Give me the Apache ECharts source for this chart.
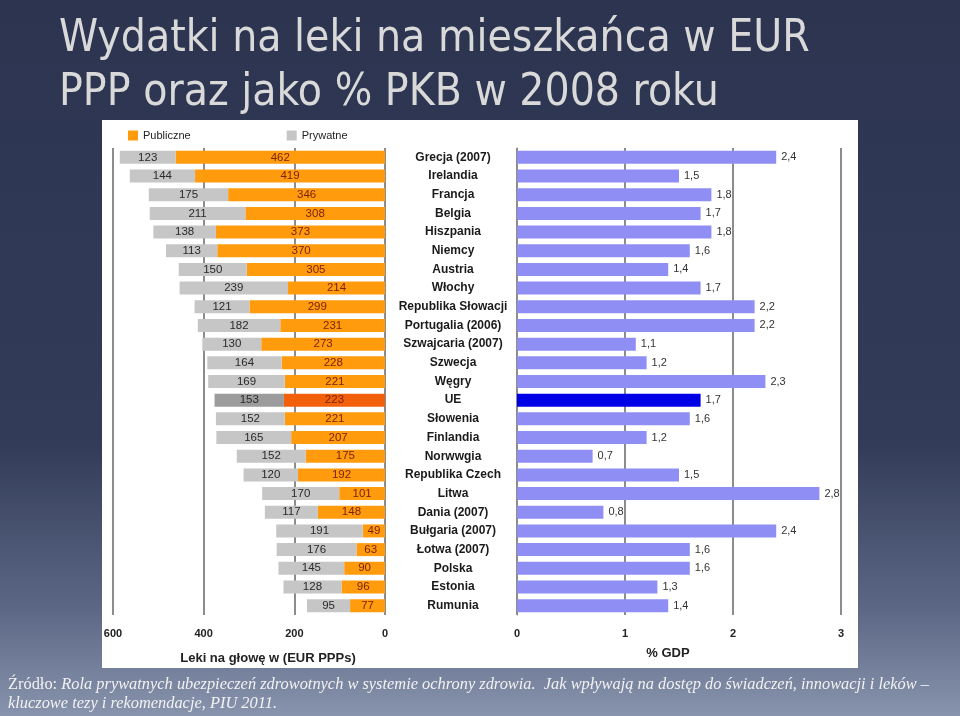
<!DOCTYPE html>
<html>
<head>
<meta charset="utf-8">
<title>Wydatki na leki</title>
<script src="https://cdn.jsdelivr.net/npm/echarts@6/dist/echarts.min.js"></script>
<style>
  html, body { margin: 0; padding: 0; }
  #main { width: 960px; height: 716px; }
</style>
</head>
<body>
<div id="main"></div>
<script>
// dane z wykresu (od góry do dołu)
var countries = ['Grecja (2007)', 'Irelandia', 'Francja', 'Belgia', 'Hiszpania', 'Niemcy', 'Austria', 'Włochy',
  'Republika Słowacji', 'Portugalia (2006)', 'Szwajcaria (2007)', 'Szwecja', 'Węgry', 'UE', 'Słowenia',
  'Finlandia', 'Norwwgia', 'Republika Czech', 'Litwa', 'Dania (2007)', 'Bułgaria (2007)', 'Łotwa (2007)',
  'Polska', 'Estonia', 'Rumunia']
var publicSpend = [462, 419, 346, 308, 373, 370, 305, 214, 299, 231, 273, 228, 221, 223, 221, 207, 175, 192,
  101, 148, 49, 63, 90, 96, 77]
var privateSpend = [123, 144, 175, 211, 138, 113, 150, 239, 121, 182, 130, 164, 169, 153, 152, 165, 152, 120,
  170, 117, 191, 176, 145, 128, 95]
var gdpShare = [2.4, 1.5, 1.8, 1.7, 1.8, 1.6, 1.4, 1.7, 2.2, 2.2, 1.1, 1.2, 2.3, 1.7, 1.6, 1.2, 0.7, 1.5,
  2.8, 0.8, 2.4, 1.6, 1.6, 1.3, 1.4]
var spendTicks = ['600', '400', '200', '0']
var gdpTicks = ['0', '1', '2', '3']

var chart = echarts.init(document.getElementById('main'))

// UE wyróżnione innym kolorem
function withHighlight (arr, color) {
  return arr.map(function (v, i) {
    if (countries[i] === 'UE') return { value: v, itemStyle: { color: color } }
    return v
  })
}

var tickFont = { color: '#222', fontSize: 11, fontWeight: 'bold', fontFamily: 'Liberation Sans' }

var option = {
  animation: false,
  textStyle: { fontFamily: 'Liberation Sans' },
  graphic: [
    {
      type: 'rect', z: -10, silent: true,
      shape: { x: 0, y: 0, width: 960, height: 716 },
      style: {
        fill: new echarts.graphic.LinearGradient(0, 0, 0, 1, [
          { offset: 0, color: '#2c3450' },
          { offset: 0.62, color: '#323c58' },
          { offset: 0.85, color: '#5c6785' },
          { offset: 1, color: '#8893ad' }
        ])
      }
    },
    {
      type: 'rect', z: -9, silent: true,
      shape: { x: 102, y: 120, width: 756, height: 548 },
      style: { fill: '#ffffff' }
    },
    {
      type: 'text', left: 59, top: 13,
      style: {
        text: 'Wydatki na leki na mieszkańca w EUR\nPPP oraz jako % PKB w 2008 roku',
        fill: '#d9d9d9', font: '44px "DejaVu Sans Condensed"', lineHeight: 54
      }
    },
    {
      type: 'text', left: 8, top: 675,
      style: {
        text: '{n|Źródło: }{i|Rola prywatnych ubezpieczeń zdrowotnych w systemie ochrony zdrowia.  Jak wpływają na dostęp do świadczeń, innowacji i leków –}\n{i|kluczowe tezy i rekomendacje, PIU 2011.}',
        fill: '#f2f2f2',
        lineHeight: 19,
        rich: {
          n: { fontFamily: 'Liberation Serif', fontSize: 16.4, color: '#f2f2f2' },
          i: { fontFamily: 'Liberation Serif', fontStyle: 'italic', fontSize: 16.4, color: '#f2f2f2' }
        }
      }
    }
  ],
  legend: {
    data: ['Publiczne', 'Prywatne'],
    left: 123, top: 125,
    icon: 'rect', itemWidth: 10, itemHeight: 10, itemGap: 96,
    textStyle: { color: '#222', fontSize: 11 }
  },
  grid: [
    { left: 113, width: 272, top: 148, height: 467 },
    { left: 517, width: 324, top: 148, height: 467 }
  ],
  xAxis: [
    {
      type: 'value', gridIndex: 0, min: 0, max: 600, interval: 200, inverse: true,
      axisLine: { show: false }, axisTick: { show: false },
      axisLabel: Object.assign({ margin: 13, formatter: function (v) { return spendTicks[3 - v / 200] } }, tickFont),
      splitLine: { lineStyle: { color: '#8c8c8c', width: 2 } },
      name: 'Leki na głowę w (EUR PPPs)', nameLocation: 'middle', nameGap: 37,
      nameTextStyle: { color: '#222', fontSize: 13, fontWeight: 'bold', padding: [0, 0, 0, 38] }
    },
    {
      type: 'value', gridIndex: 1, min: 0, max: 3, interval: 1,
      axisLine: { show: false }, axisTick: { show: false },
      axisLabel: Object.assign({ margin: 13, formatter: function (v) { return gdpTicks[v] } }, tickFont),
      splitLine: { lineStyle: { color: '#8c8c8c', width: 2 } },
      name: '% GDP', nameLocation: 'middle', nameGap: 32,
      nameTextStyle: { color: '#222', fontSize: 13, fontWeight: 'bold', padding: [0, 22, 0, 0] }
    }
  ],
  yAxis: [
    {
      type: 'category', gridIndex: 0, data: countries, inverse: true, position: 'right',
      axisLine: { show: false }, axisTick: { show: false }, axisLabel: { show: false }
    },
    {
      type: 'category', gridIndex: 1, data: countries, inverse: true,
      axisLine: { lineStyle: { color: '#8c8c8c', width: 1 } },
      axisTick: { length: 3, lineStyle: { color: '#8c8c8c' } },
      axisLabel: { color: '#1a1a1a', fontSize: 12, fontWeight: 'bold', align: 'center', margin: 64 }
    }
  ],
  series: [
    {
      name: 'Publiczne', type: 'bar', stack: 'eur', xAxisIndex: 0, yAxisIndex: 0,
      barWidth: 13, itemStyle: { color: '#ff9b0d' },
      data: withHighlight(publicSpend, '#f2600c'),
      label: { show: true, position: 'inside', color: '#7a2408', fontSize: 11.5 }
    },
    {
      name: 'Prywatne', type: 'bar', stack: 'eur', xAxisIndex: 0, yAxisIndex: 0,
      barWidth: 13, itemStyle: { color: '#c6c6c6' },
      data: withHighlight(privateSpend, '#9c9c9c'),
      label: { show: true, position: 'inside', color: '#2a2a2a', fontSize: 11.5 }
    },
    {
      name: '% PKB', type: 'bar', xAxisIndex: 1, yAxisIndex: 1,
      barWidth: 13, itemStyle: { color: '#8e8ef4' },
      data: withHighlight(gdpShare, '#0000e6'),
      label: {
        show: true, position: 'right', distance: 5, color: '#333', fontSize: 11,
        formatter: function (p) { return String(p.value).replace('.', ',') }
      }
    }
  ]
}

chart.setOption(option)
</script>
</body>
</html>
